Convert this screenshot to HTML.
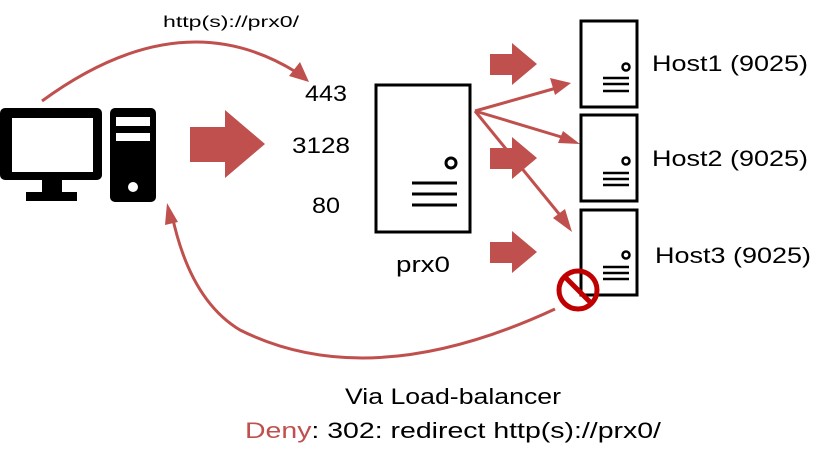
<!DOCTYPE html>
<html><head><meta charset="utf-8"><style>
html,body{margin:0;padding:0;background:#fff;}
svg{display:block;}
text{font-family:"Liberation Sans",sans-serif;fill:#000;}
</style></head><body>
<svg width="828" height="466" viewBox="0 0 828 466" xmlns="http://www.w3.org/2000/svg">
<defs>
<marker id="ah" markerWidth="8" markerHeight="8" refX="6" refY="4" orient="auto" markerUnits="userSpaceOnUse" viewBox="0 0 8 8">
</marker>
</defs>
<!-- computer -->
<rect x="0" y="108" width="102" height="72" rx="5" fill="#000"/>
<rect x="12" y="118" width="81" height="54" fill="#fff"/>
<rect x="42" y="178" width="20" height="15" fill="#000"/>
<rect x="26" y="192" width="51" height="9" fill="#000"/>
<rect x="110" y="108" width="46" height="94" rx="5" fill="#000"/>
<rect x="116" y="117" width="34" height="9" fill="#fff"/>
<rect x="116" y="133" width="34" height="8" fill="#fff"/>
<circle cx="133" cy="187" r="5" fill="#fff"/>
<!-- top curve -->
<path d="M42,101 Q180,0 296,72" fill="none" stroke="#c0504d" stroke-width="3"/>
<polygon points="309,82 289,76 300,62" fill="#c0504d"/>
<text x="163" y="27" font-size="16" textLength="136" lengthAdjust="spacingAndGlyphs">http(s)://prx0/</text>
<!-- big arrow -->
<polygon points="190,127 225,127 225,110 265,144 225,178 225,162 190,162" fill="#c0504d"/>
<text x="305" y="101" font-size="22" textLength="42" lengthAdjust="spacingAndGlyphs">443</text>
<text x="292" y="153" font-size="22" textLength="58" lengthAdjust="spacingAndGlyphs">3128</text>
<text x="312" y="213" font-size="22" textLength="28" lengthAdjust="spacingAndGlyphs">80</text>
<!-- prx0 -->
<rect x="376" y="85" width="94" height="147" fill="#fff" stroke="#000" stroke-width="3"/>
<circle cx="451" cy="163" r="5" fill="none" stroke="#000" stroke-width="3"/>
<line x1="412" y1="183" x2="457" y2="183" stroke="#000" stroke-width="3"/>
<line x1="412" y1="194" x2="457" y2="194" stroke="#000" stroke-width="3"/>
<line x1="412" y1="205" x2="457" y2="205" stroke="#000" stroke-width="3"/>
<text x="396" y="272" font-size="22" textLength="54" lengthAdjust="spacingAndGlyphs">prx0</text>
<!-- small arrows -->
<polygon points="490,54 512,54 512,43 537,64 512,85 512,75 490,75" fill="#c0504d"/>
<polygon points="490,148 512,148 512,137 537,158 512,179 512,169 490,169" fill="#c0504d"/>
<polygon points="490,242 512,242 512,231 537,252 512,273 512,263 490,263" fill="#c0504d"/>
<!-- fan lines -->
<g stroke="#c0504d" stroke-width="3" fill="none">
<line x1="475" y1="111" x2="560" y2="87"/>
<line x1="475" y1="111" x2="568" y2="139"/>
<line x1="475" y1="111" x2="564" y2="220"/>
</g>
<polygon points="571,83 550,78 555,95" fill="#c0504d"/>
<polygon points="580,144 558,143 563,131" fill="#c0504d" transform="translate(0,0)"/>
<polygon points="572,232 553,218 565,209" fill="#c0504d"/>
<!-- hosts -->
<g stroke="#000" stroke-width="3" fill="#fff">
<rect x="581" y="21" width="56" height="86"/>
<rect x="581" y="115" width="56" height="86"/>
<rect x="581" y="210" width="56" height="85"/>
</g>
<g stroke="#000" stroke-width="2.5" fill="none">
<circle cx="626" cy="67" r="3.5"/><circle cx="626" cy="161" r="3.5"/><circle cx="626" cy="255" r="3.5"/>
<path d="M603,78h26M603,84h26M603,91h26M603,173h26M603,179h26M603,185h26M603,267h26M603,273h26M603,279h26"/>
</g>
<text x="652" y="71" font-size="22" textLength="156" lengthAdjust="spacingAndGlyphs">Host1 (9025)</text>
<text x="652" y="166" font-size="22" textLength="156" lengthAdjust="spacingAndGlyphs">Host2 (9025)</text>
<text x="655" y="263" font-size="22" textLength="156" lengthAdjust="spacingAndGlyphs">Host3 (9025)</text>
<!-- return curve -->
<path d="M555,309 Q370,395 240,330 Q190,300 172,215" fill="none" stroke="#c0504d" stroke-width="3"/>
<polygon points="167,203 165,225 178,222" fill="#c0504d"/>
<!-- stop sign -->
<circle cx="578" cy="290" r="19" fill="none" stroke="#c00000" stroke-width="5"/>
<line x1="565" y1="277" x2="591" y2="303" stroke="#c00000" stroke-width="5"/>
<!-- bottom text -->
<text x="345" y="404" font-size="22" textLength="216" lengthAdjust="spacingAndGlyphs">Via Load-balancer</text>
<text x="245" y="438" font-size="22" textLength="416" lengthAdjust="spacingAndGlyphs"><tspan fill="#c0504d" style="fill:#c0504d">Deny</tspan>: 302: redirect http(s)://prx0/</text>
</svg>
</body></html>
